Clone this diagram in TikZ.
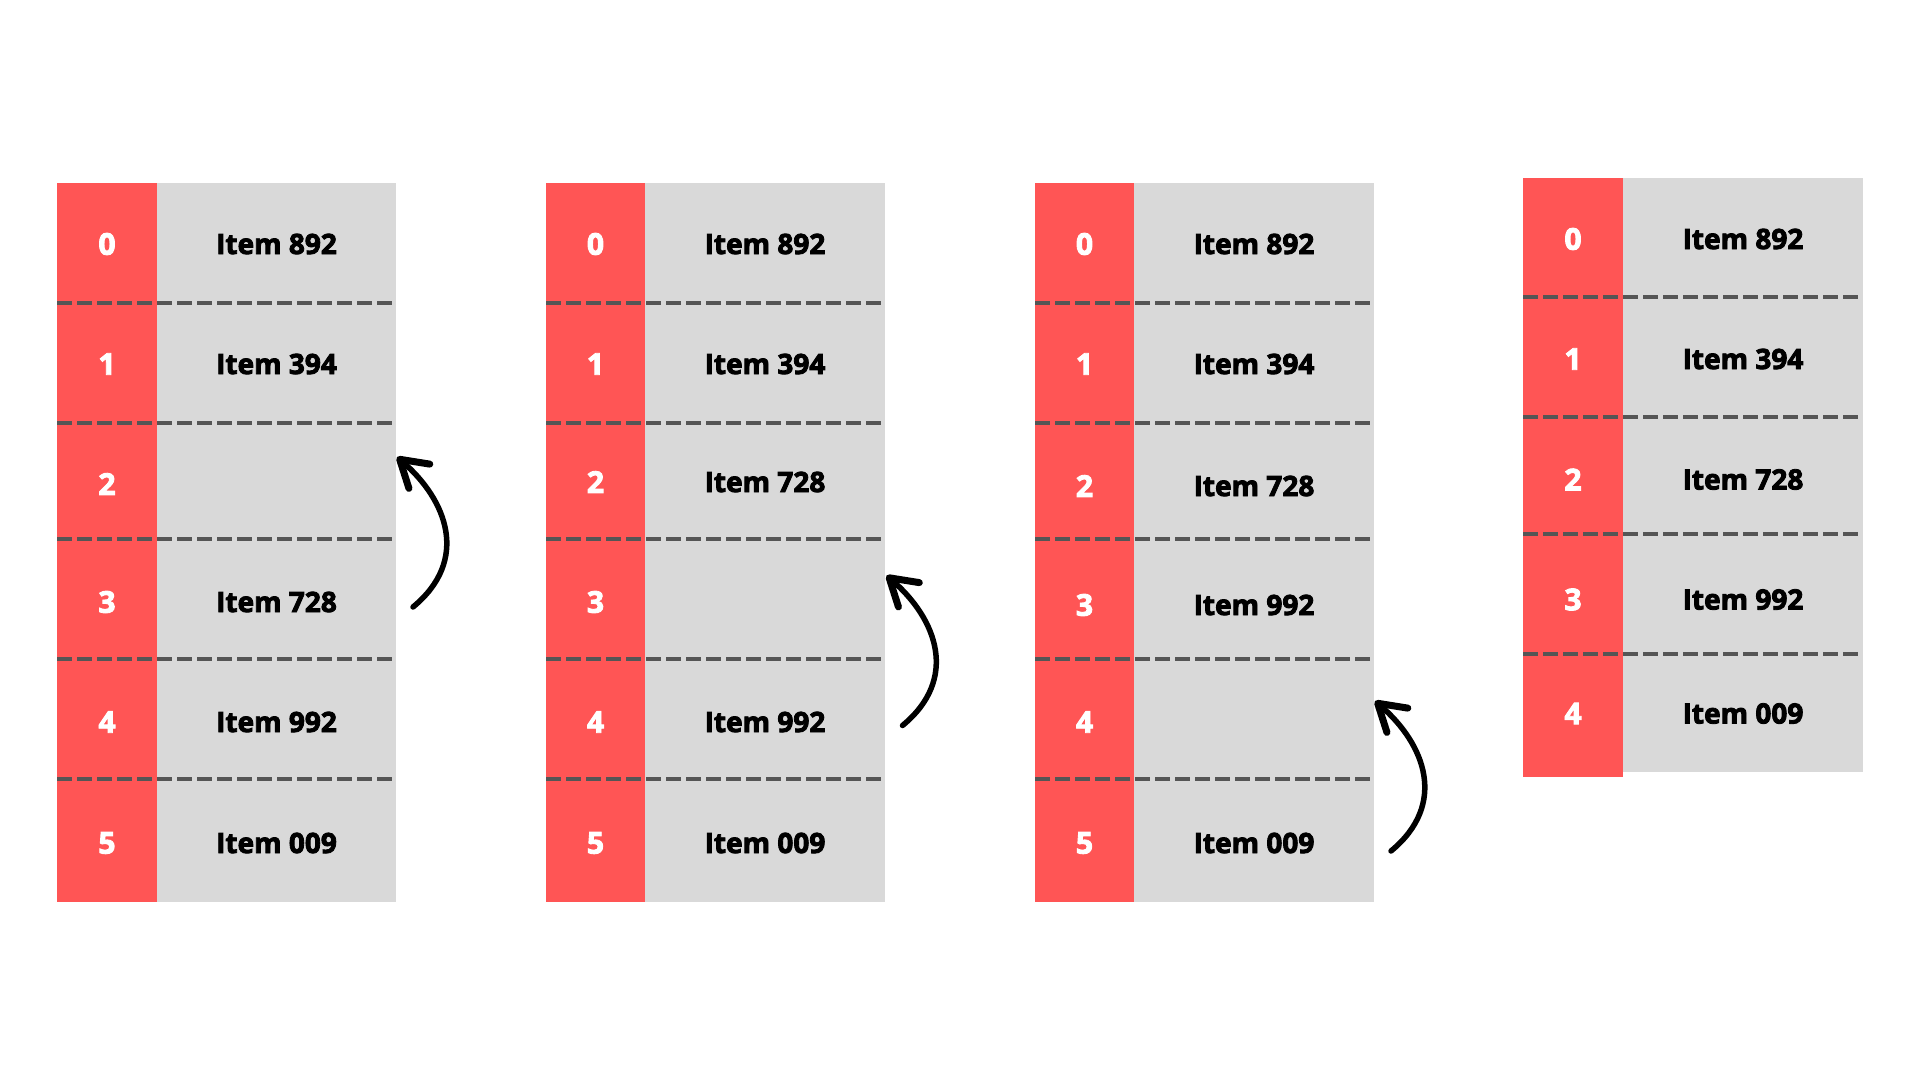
\documentclass[tikz,border=0pt]{standalone}
\usepackage{fontspec}
\setmainfont{Open Sans}[BoldFeatures={FakeBold=3}]
\usetikzlibrary{arrows.meta}
\definecolor{cellred}{HTML}{FF5555}
\definecolor{cellgray}{HTML}{D9D9D9}
\definecolor{dashgray}{HTML}{555555}
\tikzset{
  idx/.style={text=white, font=\fontsize{30}{30}\selectfont\bfseries, inner sep=0pt},
  item/.style={text=black, font=\fontsize{28}{28}\selectfont\bfseries, inner sep=0pt},
  sep/.style={draw=dashgray, line width=4pt, dash pattern=on 14.7pt off 5.3pt},
  move/.style={line width=5.5pt, line cap=round, -{Straight Barb[length=26pt, width=32pt, line width=7pt, round]}}
}
\begin{document}
\begin{tikzpicture}[x=1pt,y=-1pt]
\useasboundingbox (0,0) rectangle (1920,1080);
\fill[white] (0,0) rectangle (1920,1080);

% Panel 1
\fill[cellgray] (157,183) rectangle (396,902);
\fill[cellred] (57,183) rectangle (157,902);
\foreach \y in {302.5,422.5,539,659,779}{\draw[sep] (57,\y) -- (392,\y);}
\foreach \i/\yc/\t in {0/244/Item 892,1/364/Item 394,2/484/,3/602/Item 728,4/722/Item 992,5/843/Item 009}{
  \node[idx] (pa\i) at (107,\yc) {\i};
  \node[item] (pat\i) at (276.5,\yc) {\t};
}

% Panel 2
\fill[cellgray] (645,183) rectangle (885,902);
\fill[cellred] (546,183) rectangle (645,902);
\foreach \y in {302.5,422.5,539,659,779}{\draw[sep] (546,\y) -- (881,\y);}
\foreach \i/\yc/\t in {0/244/Item 892,1/364/Item 394,2/482/Item 728,3/602/,4/722/Item 992,5/843/Item 009}{
  \node[idx] (pb\i) at (595.5,\yc) {\i};
  \node[item] (pbt\i) at (765,\yc) {\t};
}

% Panel 3
\fill[cellgray] (1134,183) rectangle (1374,902);
\fill[cellred] (1035,183) rectangle (1134,902);
\foreach \y in {302.5,422.5,539,659,779}{\draw[sep] (1035,\y) -- (1370,\y);}
\foreach \i/\yc/\t in {0/244/Item 892,1/364/Item 394,2/486/Item 728,3/605/Item 992,4/722/,5/843/Item 009}{
  \node[idx] (pc\i) at (1084.5,\yc) {\i};
  \node[item] (pct\i) at (1254,\yc) {\t};
}

% Panel 4
\fill[cellgray] (1623,178) rectangle (1863,772);
\fill[cellred] (1523,178) rectangle (1623,777);
\foreach \y in {297,417,534,654}{\draw[sep] (1523,\y) -- (1859,\y);}
\foreach \i/\yc/\t in {0/239/Item 892,1/359/Item 394,2/479.5/Item 728,3/599.5/Item 992,4/713.5/Item 009}{
  \node[idx] (pd\i) at (1573,\yc) {\i};
  \node[item] (pdt\i) at (1743,\yc) {\t};
}

% Move arrows
\coordinate (a1s) at (413,607);
\coordinate (a1e) at (397,457);
\draw[move] (a1s) .. controls (470,560) and (447,500) .. (a1e);
\coordinate (a2s) at (902.5,725.5);
\coordinate (a2e) at (886.5,575.5);
\draw[move] (a2s) .. controls (959.5,678.5) and (936.5,618.5) .. (a2e);
\coordinate (a3s) at (1391,851);
\coordinate (a3e) at (1375,701);
\draw[move] (a3s) .. controls (1448,804) and (1425,744) .. (a3e);
\end{tikzpicture}
\end{document}
